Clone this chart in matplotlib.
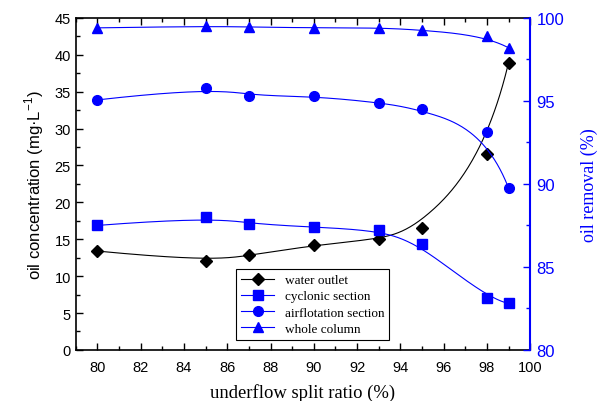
import numpy as np
import matplotlib
matplotlib.use("Agg")
import matplotlib.pyplot as plt
from matplotlib.ticker import MultipleLocator
from matplotlib.lines import Line2D

ratio = [80, 85, 87, 90, 93, 95, 98, 99]
water_outlet = [13.4, 12.0, 12.8, 14.2, 15.0, 16.5, 26.6, 38.9]
cyclonic = [87.5, 88.0, 87.6, 87.4, 87.2, 86.4, 83.1, 82.8]
airflotation = [95.06, 95.8, 95.3, 95.28, 94.9, 94.5, 93.1, 89.76]
whole_column = [99.4, 99.5, 99.45, 99.4, 99.4, 99.28, 98.9, 98.2]
labels = ["water outlet", "cyclonic section", "airflotation section", "whole column"]


def bspline(xs, ys, n=400):
    """Clamped cubic B-spline using the data points as control points."""
    P = np.column_stack([xs, ys]).astype(float)
    k = 3
    m = len(P)
    inner = np.linspace(0, 1, m - k + 1)
    t = np.concatenate([[0] * k, inner, [1] * k])
    u = np.linspace(0, 1, n)
    u[-1] = 1 - 1e-12

    def basis(i, p, uu):
        if p == 0:
            return np.where((t[i] <= uu) & (uu < t[i + 1]), 1.0, 0.0)
        a = np.zeros_like(uu)
        b = np.zeros_like(uu)
        if t[i + p] != t[i]:
            a = (uu - t[i]) / (t[i + p] - t[i]) * basis(i, p - 1, uu)
        if t[i + p + 1] != t[i + 1]:
            b = (t[i + p + 1] - uu) / (t[i + p + 1] - t[i + 1]) * basis(i + 1, p - 1, uu)
        return a + b

    C = np.zeros((n, 2))
    for i in range(m):
        C += basis(i, k, u)[:, None] * P[i]
    return C[:, 0], C[:, 1]


fig = plt.figure(figsize=(5.97, 4.02), dpi=100)
ax = fig.add_axes([0.127, 0.127, 0.761, 0.826])
ax2 = ax.twinx()

blue = "#0000ff"
lw = 0.8

x, y = bspline(ratio, water_outlet)
ax.plot(x, y, color="black", lw=lw)
ax.plot(ratio, water_outlet, "D", color="black", ms=6.5, ls="none")

for vals, mk, ms in [(cyclonic, "s", 6.5), (airflotation, "o", 7), (whole_column, "^", 7.5)]:
    x, y = bspline(ratio, vals)
    ax2.plot(x, y, color=blue, lw=lw)
    ax2.plot(ratio, vals, mk, color=blue, ms=ms, ls="none")

ax.set_xlim(79, 100)
ax.set_ylim(0, 45)
ax2.set_ylim(80, 100)

ax.xaxis.set_major_locator(MultipleLocator(2))
ax.xaxis.set_minor_locator(MultipleLocator(1))
ax.yaxis.set_major_locator(MultipleLocator(5))
ax.yaxis.set_minor_locator(MultipleLocator(2.5))
ax2.yaxis.set_major_locator(MultipleLocator(5))
ax2.yaxis.set_minor_locator(MultipleLocator(2.5))

tickfont = "Liberation Sans"
ax.tick_params(axis="both", which="both", direction="in", top=True, right=False,
               labelsize=10.5, width=1)
ax.tick_params(which="major", length=5)
ax.tick_params(which="minor", length=3)
ax.tick_params(axis="x", which="both", pad=7)
for lab in ax.get_xticklabels() + ax.get_yticklabels():
    lab.set_fontfamily(tickfont)

ax2.tick_params(axis="y", which="both", direction="in", colors=blue, labelsize=12, width=1, pad=4.5)
ax2.tick_params(which="major", length=5)
ax2.tick_params(which="minor", length=3)
for lab in ax2.get_yticklabels():
    lab.set_fontfamily(tickfont)
ax2.spines["right"].set_color(blue)
ax2.spines["right"].set_linewidth(1.5)
for s in ["left", "top", "bottom"]:
    ax.spines[s].set_linewidth(1.2)
ax2.spines["left"].set_visible(False)
ax2.spines["top"].set_visible(False)
ax2.spines["bottom"].set_visible(False)
ax.spines["right"].set_visible(False)

ax.set_xlabel("underflow split ratio (%)", fontfamily="Liberation Serif", fontsize=13.4, labelpad=7)
ax.set_ylabel("oil concentration (mg·L$^{\\mathregular{-1}}$)", fontfamily="Liberation Sans",
              fontsize=12, labelpad=6)
ax2.set_ylabel("oil removal (%)", fontfamily="Liberation Serif", fontsize=13, color=blue, labelpad=12)

handles = [
    Line2D([], [], color="black", lw=lw, marker="D", ms=6.5),
    Line2D([], [], color=blue, lw=lw, marker="s", ms=6.5),
    Line2D([], [], color=blue, lw=lw, marker="o", ms=7),
    Line2D([], [], color=blue, lw=lw, marker="^", ms=7.5),
]
leg = ax2.legend(handles, labels, loc="lower left", bbox_to_anchor=(0.352, 0.03),
                 borderaxespad=0,
                 prop={"family": "Liberation Serif", "size": 9.5}, frameon=True,
                 fancybox=False, edgecolor="black", framealpha=1, handlelength=2.5,
                 labelspacing=0.3, borderpad=0.4)
leg.get_frame().set_linewidth(0.8)

fig.savefig("out.png", dpi=100)
